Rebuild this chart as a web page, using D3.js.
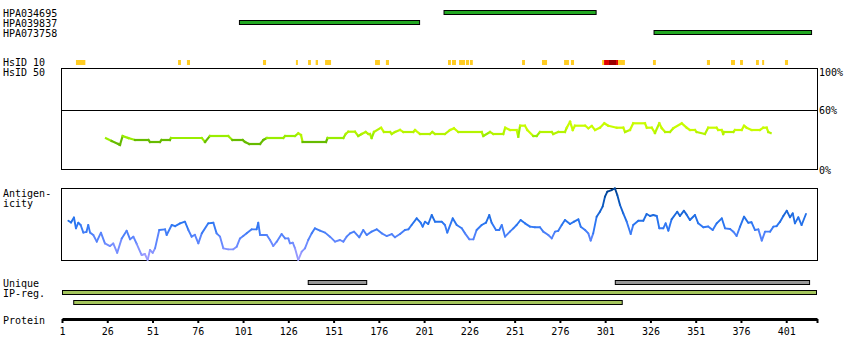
<!DOCTYPE html>
<html><head><meta charset="utf-8">
<script src="https://cdn.jsdelivr.net/npm/d3@7"></script>
<style>
body{margin:0;background:#fff}
text{font-family:"DejaVu Sans Mono",monospace;font-size:10px;fill:#000}
</style>
</head><body><svg id="c" width="850" height="360"></svg>
<script>
// ---------- data ----------
const proteinLength = 418;
const antibodies = ["HPA034695", "HPA039837", "HPA073758"];
const antibodyStart = [212, 99, 328];
const antibodyEnd = [296, 198.5, 415];

// HsID 10 marks: [start, end, level] level 1 = yellow, 2 = red, 3 = dark red
const hsidMarks = [
  [8.7,13.9,1],[65.1,66.7,1],[70,71.7,1],[112,113.7,1],[130.2,131.3,1],[136.9,138.5,1],
  [141.1,142.4,1],[146.3,149.6,1],[173.9,176.6,1],[179.9,181.6,1],[214.2,215.8,1],
  [216.4,218.6,1],[220.3,223.6,1],[224.1,225.8,1],[226.3,227.9,1],[255.1,256.7,1],
  [266.1,268.9,1],[278.3,281,1],[282.1,283.8,1],[299.3,300.4,1],[300.4,303.1,2],
  [303.1,307,3],[307,308.1,2],[308.1,311.9,1],[327.4,329,1],[357.2,358.9,1],
  [370.5,372.7,1],[375.5,377.1,1],[384.3,385.9,1],[387.7,388.8,1],[400.3,402,1]
];

// identity to closest species (percent), [residue, value]
const identity = [
[25.3,31.7],[28.4,29],[32.1,26],[33,25],[34.5,34],[37.6,32],[41.3,30],[48.7,30],[49.6,28],[55.1,28],[56.0,30],[60.6,30],[61.2,32],[78.2,32],[80.0,28],[82.7,34],[92.8,34],[95.1,30],[100.8,30],[102.1,28],[104.4,26],[110.4,26],[112.2,30],[114.1,32],[123.2,32],[124.2,34],[129.7,34],[131.5,36.7],[133.0,35],[133.9,28],[146.8,28],[147.7,32],[156.4,32],[157.7,36],[159.1,38.3],[162.8,38.3],[164.6,34],[166.5,36],[168.7,38],[170.2,36],[171.1,36],[172.0,32],[173.3,38],[177.2,42.3],[178.8,38],[182.2,38],[183.1,36],[184.9,38],[187.7,40],[189.5,38],[195.0,38],[196.0,40],[198.7,36],[204.2,36],[205.5,38],[207.0,36],[212.5,36],[215.3,40],[217.5,41.7],[219.9,38],[232.8,38],[233.7,34],[237.4,38],[239.2,36],[244.7,36],[245.8,42.3],[248.4,40],[252.1,40],[253.0,33.3],[254.0,44.3],[256.7,44.3],[258.0,40],[261.3,34],[263.2,34],[265.0,38],[271.5,38],[272.3,36],[275.1,38],[278.8,38],[279.8,42.3],[281.6,48.3],[283.1,40],[284.3,44.3],[289.9,44.3],[291.7,41.7],[293.6,44],[295.4,40],[298.1,42.3],[300.5,46.7],[302.7,44.3],[307.4,42.3],[311.0,42.3],[312.0,38],[314.7,40],[316.5,46.7],[323.0,46.7],[324.0,42.3],[326.7,42.3],[328.5,37],[330.9,46.7],[332.2,42],[334.1,38],[336.8,38],[338.6,41.7],[343.3,46.7],[346.0,42.3],[347.8,40],[350.6,40],[351.5,38],[356.1,36],[357.9,42.3],[362.5,42.3],[363.4,40],[365.3,40],[366.2,36],[366.6,38],[371.8,38],[372.7,40],[376.4,40],[377.7,44.3],[379.1,42.3],[381.9,40],[386.5,40],[388.3,42.3],[390.2,42.3],[391.1,38],[392.4,37]
];
const identityTicks = [100, 60, 0];

// antigenicity (relative, 0 = min, 100 = max), [residue, value]
const antigenicity = [
[4.5,54.6],[6.0,52],[7.6,59],[8.7,44],[10.0,51.8],[11.3,48.6],[12.8,38],[14.5,39],[15.5,48.6],[16.5,38],[18.3,34.7],[20.2,25.5],[22.5,38],[24.7,23],[27.5,19.4],[29.3,23],[31.5,10],[34.0,30],[36.7,40.7],[38.6,28.7],[40.4,32.4],[42.3,22.2],[45.0,6.9],[46.8,8.3],[48.3,0],[49.6,13.9],[51.1,10],[52.4,16.2],[54.7,41.7],[57.9,42.6],[58.8,34.7],[61.6,48.6],[63.5,47],[66.2,50.9],[68.9,53.2],[70.8,41.7],[72.6,32.4],[74.4,35],[76.3,23.1],[78.2,37],[81.8,50.9],[84.6,51.8],[86.4,37],[88.3,32.4],[90.1,16.2],[92.8,14.8],[95.6,14.8],[97.5,18.5],[99.3,30],[101.1,33.3],[103.0,37],[105.8,42.6],[108.5,42.6],[109.4,51.8],[110.4,34.7],[114.1,34.7],[115.9,27.8],[117.7,19.4],[119.6,25.5],[122.3,36.1],[124.2,30],[126.0,30],[126.9,23.1],[128.5,24],[129.7,16.2],[131.5,0],[133.4,11.6],[135.2,16.2],[137.0,27.8],[138.9,37],[140.7,44],[143.5,40.7],[146.3,38],[149.0,32.4],[151.8,25.5],[154.5,27.8],[156.4,25.5],[158.2,32.4],[160.1,37],[162.3,39.4],[165.2,31.5],[167.4,41.7],[169.3,34.7],[172.0,39.4],[174.8,42.6],[177.6,37],[180.3,33.3],[183.1,36.1],[184.9,31.5],[187.7,36.1],[190.4,41.7],[192.3,42.6],[194.1,48.6],[196.9,57.9],[199.1,51.8],[200.2,46.3],[201.5,53.2],[203.3,50],[205.2,62.5],[207.0,53.2],[210.7,53.2],[212.5,48.6],[213.8,38],[216.8,57.9],[219.0,48.6],[221.8,44],[223.6,37],[226.0,28.7],[228.2,28.7],[230.0,41.7],[232.8,48.6],[235.2,51.8],[237.0,62.5],[238.3,51.8],[240.7,41.7],[242.5,41.7],[243.9,48.6],[245.7,32.4],[248.4,39.4],[250.3,44],[252.1,48.6],[254.3,55.6],[256.7,50.9],[259.5,46.3],[262.2,45.5],[265.0,45.5],[266.8,39.4],[269.6,34.7],[271.5,30],[273.3,39.4],[275.1,40.5],[277.0,48.6],[278.8,55.6],[281.6,50],[283.8,53.2],[286.2,56.5],[287.5,46.3],[289.9,41.7],[291.7,37],[293.0,26.9],[294.4,37],[296.3,60.2],[298.1,67.1],[299.6,74.1],[300.9,88],[302.2,94.9],[304.6,97.2],[306.4,99.5],[307.7,90.3],[309.2,76.4],[311.0,64.8],[312.9,53.2],[315.1,36.1],[316.5,48.6],[319.3,54.6],[322.1,54.6],[323.9,63.9],[325.8,61.1],[327.6,62.5],[329.5,61.1],[330.9,44],[333.1,44],[334.4,50.9],[335.9,40.7],[337.7,56.5],[340.8,67.1],[342.3,61.1],[344.5,68.5],[346.0,63],[347.8,55.6],[350.6,62.5],[352.4,50.9],[355.2,45.4],[357.9,46.5],[360.4,41.7],[362.6,50.9],[365.4,57.9],[367.2,44],[370.0,43],[371.8,39.4],[373.6,33.3],[375.5,46.3],[377.7,60.2],[380.0,51.8],[381.8,52.5],[383.7,41.7],[385.6,42.6],[387.5,26.9],[389.3,39.4],[392.1,39.4],[393.9,46.3],[395.7,47],[397.6,53.2],[399.4,61.1],[401.3,68.5],[403.1,59.3],[404.6,64.8],[405.8,50.9],[407.7,59.3],[409.5,48.6],[411.9,63.9]
];

const uniqueStart = [137, 306.6];
const uniqueEnd = [169.3, 413.9];
const ipregStart = [1, 7.2];
const ipregEnd = [418, 310.7];
const proteinTicks = [1, 26, 51, 76, 101, 126, 151, 176, 201, 226, 251, 276, 301, 326, 351, 376, 401];

// ---------- drawing ----------
const svg = d3.select("#c");
const x = d3.scaleLinear().domain([1, proteinLength]).range([62, 817]);
const yId = d3.scaleLinear().domain([0, 100]).range([170, 70]);
const yAg = d3.scaleLinear().domain([0, 100]).range([260, 188]);

function label(t, xx, yy, anchor) {
  svg.append("text").attr("x", xx).attr("y", yy).attr("text-anchor", anchor || "start").text(t);
}

// antibody rows
const abRowY = [10.5, 20.5, 30.5];
antibodies.forEach((a, i) => {
  label(a, 3, abRowY[i] + 6);
  svg.append("rect").attr("x", x(antibodyStart[i])).attr("y", abRowY[i])
    .attr("width", x(antibodyEnd[i]) - x(antibodyStart[i])).attr("height", 4)
    .attr("fill", "#22a822").attr("stroke", "#000").attr("stroke-width", 1);
});

// HsID rows
label("HsID 10", 3, 66);
label("HsID 50", 3, 76);
const hsColor = {1: "#ffcc22", 2: "#e00000", 3: "#990000"};
svg.append("g").selectAll("rect").data(hsidMarks).join("rect")
  .attr("x", d => x(d[0])).attr("y", 60).attr("width", d => x(d[1]) - x(d[0])).attr("height", 5)
  .attr("fill", d => hsColor[d[2]]);

// identity box
svg.append("rect").attr("x", 61.5).attr("y", 68.5).attr("width", 756).attr("height", 101)
  .attr("fill", "none").attr("stroke", "#000");
svg.append("line").attr("x1", 61.5).attr("x2", 817.5).attr("y1", Math.round(yId(60)) + 0.5).attr("y2", Math.round(yId(60)) + 0.5)
  .attr("stroke", "#000");
identityTicks.forEach(v => {
  const yy = v === 100 ? 76 : yId(v) + 4;
  label(v + "%", 819, yy);
});
const idColor = v => v < 31 ? "#66bb00" : v < 35 ? "#99ee00" : v < 40 ? "#b4f400" : "#c8fc00";
const idSegs = d3.pairs(identity);
svg.append("g").selectAll("line").data(idSegs).join("line")
  .attr("x1", d => x(d[0][0])).attr("y1", d => yId(d[0][1]))
  .attr("x2", d => x(d[1][0])).attr("y2", d => yId(d[1][1]))
  .attr("stroke", d => idColor(d[0][1]))
  .attr("stroke-width", 2.2).attr("stroke-linecap", "square");

// antigenicity
label("Antigen-", 3, 197);
label("icity", 3, 207);
svg.append("rect").attr("x", 61.5).attr("y", 188.5).attr("width", 756).attr("height", 72)
  .attr("fill", "none").attr("stroke", "#000");
const agColor = d3.scaleLinear().domain([0, 25, 50, 80, 100])
  .range(["#aaa0ff", "#6688ff", "#2a76f2", "#0858c0", "#003f8a"]);
const agSegs = d3.pairs(antigenicity);
svg.append("g").selectAll("line").data(agSegs).join("line")
  .attr("x1", d => x(d[0][0])).attr("y1", d => yAg(d[0][1]))
  .attr("x2", d => x(d[1][0])).attr("y2", d => yAg(d[1][1]))
  .attr("stroke", d => agColor((d[0][1] + d[1][1]) / 2))
  .attr("stroke-width", 1.9).attr("stroke-linecap", "round");

// unique / IP-reg
label("Unique", 3, 286.5);
label("IP-reg.", 3, 296.5);
uniqueStart.forEach((s, i) => {
  svg.append("rect").attr("x", x(s)).attr("y", 280.5).attr("width", x(uniqueEnd[i]) - x(s)).attr("height", 4)
    .attr("fill", "#999999").attr("stroke", "#000");
});
const ipRowY = [290.5, 300.5];
ipregStart.forEach((s, i) => {
  svg.append("rect").attr("x", x(s) + 0.5).attr("y", ipRowY[i]).attr("width", x(ipregEnd[i]) - x(s) - 1).attr("height", 4)
    .attr("fill", "#a4c55c").attr("stroke", "#000");
});

// protein axis
label("Protein", 3, 323.5);
const axis = d3.axisBottom(x).tickValues(proteinTicks.concat([proteinLength]))
  .tickFormat(d => d === proteinLength ? "" : d).tickSizeInner(4).tickSizeOuter(0).tickPadding(5);
const ag = svg.append("g").attr("transform", "translate(0,319)").call(axis);
ag.select(".domain").attr("stroke-width", 3).attr("stroke", "#000");
ag.selectAll(".tick line").attr("stroke-width", 2).attr("stroke", "#000");
ag.selectAll(".tick text").attr("font-family", "DejaVu Sans Mono").attr("font-size", 10).attr("fill", "#000");
</script>
</body></html>
